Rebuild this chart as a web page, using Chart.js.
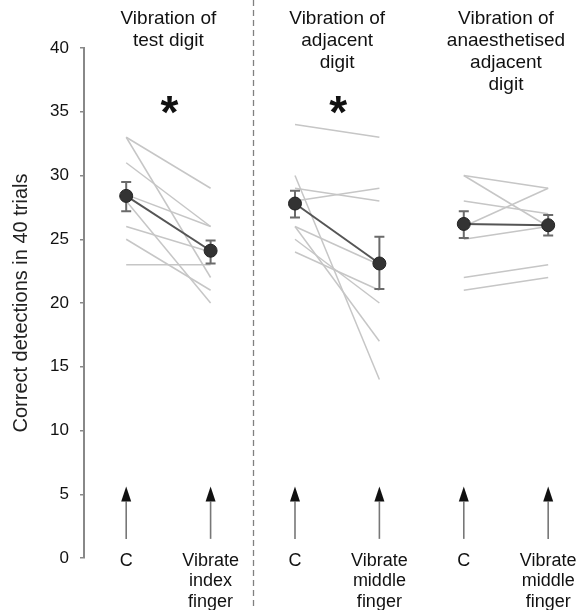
<!DOCTYPE html>
<html>
<head>
<meta charset="utf-8">
<script src="https://cdn.jsdelivr.net/npm/chart.js@4.4.0/dist/chart.umd.min.js"></script>
<style>
  html, body { margin: 0; padding: 0; background: #fff; }
</style>
</head>
<body>
<canvas id="chart" width="581" height="610"></canvas>
<script>
// --- data ---
const groupTitles = [
  ['Vibration of', 'test digit'],
  ['Vibration of', 'adjacent', 'digit'],
  ['Vibration of', 'anaesthetised', 'adjacent', 'digit']
];
const significance = ['*', '*', ''];
const conditionLabels = ['C', ['Vibrate', 'index', 'finger'], 'C', ['Vibrate', 'middle', 'finger'], 'C', ['Vibrate', 'middle', 'finger']];
const yTicks = [0, 5, 10, 15, 20, 25, 30, 35, 40];

// individual subjects, control vs vibrate
const testDigitC   = [33, 33, 31, 28.5, 28, 26, 25, 23];
const testDigitVib = [29, 22, 26, 26, 20, 24, 21, 23];
const adjacentC    = [34, 29, 28, 30, 26, 26, 25, 24];
const adjacentVib  = [33, 28, 29, 14, 17, 23, 20, 21];
const anaesC       = [30, 30, 28, 26, 25, 22, 21];
const anaesVib     = [29, 26, 27, 29, 26, 23, 22];

// group means and error bar ends, one per condition
const means   = [28.4, 24.1, 27.8, 23.1, 26.2, 26.1];
const errLow  = [27.2, 23.1, 26.7, 21.1, 25.1, 25.3];
const errHigh = [29.5, 24.9, 28.8, 25.2, 27.2, 26.9];

const groups = [[testDigitC, testDigitVib], [adjacentC, adjacentVib], [anaesC, anaesVib]];

Chart.defaults.font.family = '"Liberation Sans", Arial, sans-serif';
Chart.defaults.color = '#111';

const datasets = [];
groups.forEach(([c, v], g) => {
  c.forEach((val, i) => {
    datasets.push({
      data: [{ x: 2 * g, y: val }, { x: 2 * g + 1, y: v[i] }],
      borderColor: '#c6c6c6',
      borderWidth: 1.5,
      pointRadius: 0,
      order: 5
    });
  });
});
groups.forEach((_, g) => {
  const a = 2 * g, b = 2 * g + 1;
  datasets.push({
    isMean: true,
    data: [{ x: a, y: means[a] }, { x: b, y: means[b] }],
    err: [[a, errLow[a], errHigh[a]], [b, errLow[b], errHigh[b]]],
    borderColor: '#555',
    borderWidth: 2,
    pointRadius: 6.5,
    pointBackgroundColor: '#333',
    pointBorderColor: '#222',
    pointBorderWidth: 1,
    order: 1
  });
});

const errorBars = {
  id: 'errorBars',
  beforeDatasetDraw(chart, args) {
    const ds = chart.data.datasets[args.index];
    if (!ds.isMean) return;
    const { ctx, scales: { x, y } } = chart;
    ctx.save();
    ctx.strokeStyle = '#6b6b6b';
    ctx.lineWidth = 2;
    ds.err.forEach(([xi, lo, hi]) => {
      const px = x.getPixelForValue(xi);
      const pl = y.getPixelForValue(lo);
      const ph = y.getPixelForValue(hi);
      ctx.beginPath();
      ctx.moveTo(px, pl); ctx.lineTo(px, ph);
      ctx.moveTo(px - 5, pl); ctx.lineTo(px + 5, pl);
      ctx.moveTo(px - 5, ph); ctx.lineTo(px + 5, ph);
      ctx.stroke();
    });
    ctx.restore();
  }
};

const decorations = {
  id: 'decorations',
  afterDraw(chart) {
    const { ctx, scales: { x, y } } = chart;
    ctx.save();

    // dashed separator between first and second experiment
    const sx = Math.round(x.getPixelForValue(1.5)) + 0.5;
    ctx.strokeStyle = '#808080';
    ctx.lineWidth = 1.3;
    ctx.setLineDash([6, 4]);
    ctx.beginPath();
    ctx.moveTo(sx, 0); ctx.lineTo(sx, chart.height);
    ctx.stroke();
    ctx.setLineDash([]);

    // group titles and significance stars
    ctx.fillStyle = '#111';
    ctx.textAlign = 'center';
    groupTitles.forEach((lines, g) => {
      const cx = x.getPixelForValue(2 * g + 0.5);
      ctx.font = '19px "Liberation Sans", Arial, sans-serif';
      ctx.textBaseline = 'middle';
      lines.forEach((t, k) => ctx.fillText(t, cx, 19 + k * 22));
      if (significance[g]) {
        ctx.font = 'bold 46px "Liberation Sans", Arial, sans-serif';
        ctx.textBaseline = 'alphabetic';
        ctx.fillText(significance[g], cx + 1, 128);
      }
    });

    // upward arrows above each condition
    conditionLabels.forEach((_, i) => {
      const px = x.getPixelForValue(i);
      const tail = y.getPixelForValue(1.5);
      const tip = y.getPixelForValue(5.6);
      const headBase = tip + 15;
      ctx.strokeStyle = '#777';
      ctx.lineWidth = 1.6;
      ctx.beginPath();
      ctx.moveTo(px, tail); ctx.lineTo(px, headBase);
      ctx.stroke();
      ctx.fillStyle = '#111';
      ctx.beginPath();
      ctx.moveTo(px, tip);
      ctx.lineTo(px - 5, headBase);
      ctx.lineTo(px + 5, headBase);
      ctx.closePath();
      ctx.fill();
    });
    ctx.restore();
  }
};

new Chart(document.getElementById('chart'), {
  type: 'line',
  data: { datasets },
  plugins: [errorBars, decorations],
  options: {
    responsive: false,
    animation: false,
    layout: { padding: { top: 48, right: 0, bottom: 0, left: 0 } },
    plugins: { legend: { display: false }, tooltip: { enabled: false } },
    scales: {
      x: {
        type: 'linear',
        min: -0.5,
        max: 5.3,
        grid: { display: false, drawTicks: false },
        border: { display: false },
        afterBuildTicks: s => { s.ticks = conditionLabels.map((_, i) => ({ value: i })); },
        afterFit: s => { s.height = 52; s.paddingLeft = 0; s.paddingRight = 0; },
        ticks: {
          autoSkip: false,
          maxRotation: 0,
          minRotation: 0,
          mirror: true,
          padding: -13,
          font: { size: 18, lineHeight: 1.14 },
          color: '#111',
          callback: (v, i) => conditionLabels[i]
        }
      },
      y: {
        min: 0,
        max: 40,
        afterBuildTicks: s => { s.ticks = yTicks.map(v => ({ value: v })); },
        afterFit: s => { s.width = 84; s.paddingTop = 0; s.paddingBottom = 0; },
        grid: { drawOnChartArea: false, drawTicks: true, tickLength: 4, color: '#888', lineWidth: 1.5 },
        border: { display: true, color: '#888', width: 2 },
        ticks: { padding: 11, font: { size: 17 }, color: '#111' },
        title: {
          display: true,
          text: 'Correct detections in 40 trials',
          font: { size: 20 },
          color: '#222',
          padding: { top: 9, bottom: 0 }
        }
      }
    }
  }
});
</script>
</body>
</html>
